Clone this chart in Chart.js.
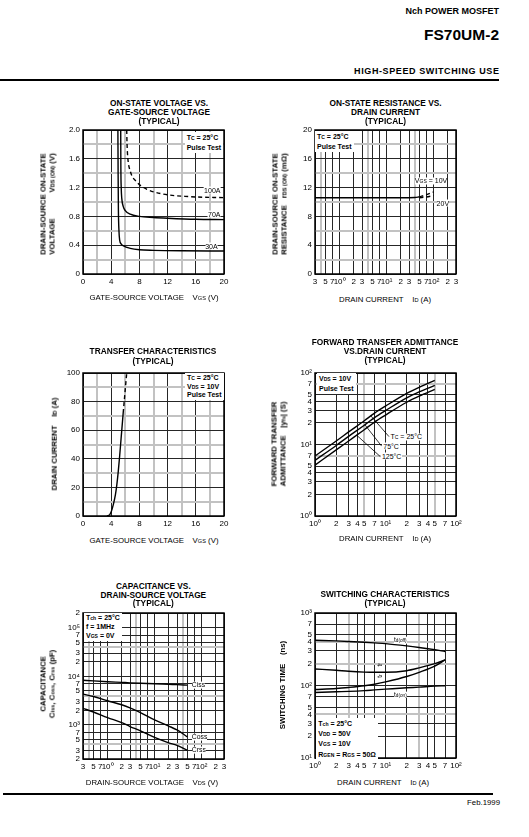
<!DOCTYPE html>
<html><head><meta charset="utf-8">
<script src="https://cdn.jsdelivr.net/npm/chart.js@4.4.0/dist/chart.umd.min.js"></script>
<style>
html,body{margin:0;padding:0;background:#fff}
body{position:relative;width:529px;height:837px;overflow:hidden;font-family:"Liberation Sans",Arial,Helvetica,sans-serif;color:#000}
.t{position:absolute;white-space:nowrap;line-height:1}
.s{font-size:72%}
.bg{background:#fff}
.rule{position:absolute;background:#000}
</style></head><body>
<div class="rule" style="left:0;top:78.8px;width:499px;height:2.6px"></div>
<div class="rule" style="left:3px;top:792.7px;width:490px;height:2px"></div>
<script>
// ================= DATA =================
// Chart 1 : on-state voltage vs gate-source voltage
const c1XTicks = [0,2,4,6,8,10,12,14,16,18,20];
const c1XLabels = ['0','','4','','8','','12','','16','','20'];
const c1YTicks = [0,0.2,0.4,0.6,0.8,1.0,1.2,1.4,1.6,1.8,2.0];
const c1YLabels = ['0','','0.4','','0.8','','1.2','','1.6','','2.0'];
const vgs30A = [4.95,4.98,5.02,5.1,5.2,5.4,5.75,6.7,8,10,14,20];
const vds30A = [2.0,1.4,0.9,0.6,0.47,0.42,0.39,0.356,0.336,0.328,0.322,0.32];
const vgs70A = [5.35,5.37,5.42,5.5,5.7,6.0,6.7,8,10,12,16,20];
const vds70A = [2.0,1.5,1.2,1.05,0.94,0.88,0.83,0.8,0.785,0.775,0.76,0.755];
const vgs100A = [6.2,6.25,6.35,6.7,7.6,9,11.4,15,20];
const vds100A = [2.0,1.8,1.62,1.43,1.28,1.18,1.11,1.075,1.06];

// Chart 2 : on-state resistance vs drain current
const c2XTicks = [0.3,0.4,0.5,0.7,1,2,3,4,5,7,10,20,30,40,50,70,100,200,300];
const c2XLabels = ['3','','5','7','10⁰','2','3','','5','7','10¹','2','3','','5','7','10²','2','3'];
const c2XGray = [0.4,4,40];
const c2YTicks = [0,2,4,6,8,10,12,14,16,18,20];
const c2YLabels = ['0','','4','','8','','12','','16','','20'];
const idR = [0.3,1,3,10,30,40,50];
const rdsSolid = [10.6,10.6,10.6,10.6,10.6,10.62,10.72];
const idRDash = [50,70,100];
const rds10Dash = [10.72,11.0,11.4];
const rds20Dash = [10.6,10.7,10.9];

// Chart 3 : transfer characteristics
const c3XTicks = [0,2,4,6,8,10,12,14,16,18,20];
const c3XLabels = ['0','','4','','8','','12','','16','','20'];
const c3YTicks = [0,10,20,30,40,50,60,70,80,90,100];
const c3YLabels = ['0','','20','','40','','60','','80','','100'];
const vgsT = [3.4,3.8,4.0,4.3,4.6,4.8,5.0,5.2,5.4,5.6,5.7];
const idT = [0,1,3,8,15,22,31,42,54,66,72];
const vgsTDash = [5.7,5.95,6.2];
const idTDash = [72,86,100];

// Chart 4 : forward transfer admittance vs drain current
const c4XTicks = [1,2,3,4,5,7,10,20,30,40,50,70,100];
const c4XLabels = ['10⁰','2','3','4','5','7','10¹','2','3','4','5','7','10²'];
const c4XGray = [5,50];
const c4YTicks = [1,2,3,4,5,7,10,20,30,40,50,70,100];
const c4YLabels = ['10⁰','2','3','4','5','7','10¹','2','3','4','5','7','10²'];
const c4YGray = [7,70];
const idY = [1,2,3,5,7,10,20,30,50];
const yfs25 = [6.9,11.2,15,21.5,27.5,34.5,52,63,79];
const yfs75 = [6.0,9.7,13,18.6,23.8,29.8,45,54.5,67];
const yfs125 = [5.15,8.4,11.2,16.1,20.6,25.8,39,47.5,59];

// Chart 5 : capacitance vs drain-source voltage
const c5XTicks = [0.3,0.4,0.5,0.7,1,2,3,4,5,7,10,20,30,40,50,70,100,200,300];
const c5XLabels = ['3','','5','7','10⁰','2','3','','5','7','10¹','2','3','','5','7','10²','2','3'];
const c5XGray = [0.4,4,40];
const c5YTicks = [200,300,400,500,700,1000,2000,3000,4000,5000,7000,10000,20000,30000,40000,50000,70000,100000,200000];
const c5YLabels = ['2','3','','5','7','10³','2','3','','5','7','10⁴','2','3','','5','7','10⁵','2'];
const c5YGray = [400,4000,40000];
const vdsC = [0.3,0.5,1,2,3,5,10,20,30,50];
const ciss = [8300,8050,7750,7500,7350,7200,7050,6850,6750,6600];
const coss = [4300,3850,3150,2600,2250,1800,1270,950,790,570];
const crss = [2200,1850,1420,1120,930,760,555,430,380,300];

// Chart 6 : switching characteristics
const c6XTicks = [1,2,3,4,5,7,10,20,30,40,50,70,100];
const c6XLabels = ['10⁰','2','3','4','5','7','10¹','2','3','4','5','7','10²'];
const c6XGray = [3,30];
const c6YTicks = [10,20,30,40,50,70,100,200,300,400,500,700,1000];
const c6YLabels = ['10¹','2','3','4','5','7','10²','2','3','4','5','7','10³'];
const c6YGray = [40,200,400];
const idS = [1,2,3,5,7,10,20,30,50,70];
const tdoff = [420,412,405,395,387,378,352,335,312,295];
const tf = [169,162,157,153,152,152,160,175,200,225];
const tr = [88,91,94,99,104,112,133,152,185,225];
const tdon = [80,82,83,85,87,89,93,95,98,99];

// ================= HELPERS =================
const FONTCSS = '"Liberation Sans", Arial, Helvetica, sans-serif';
Chart.defaults.font.family = FONTCSS;
Chart.defaults.font.size = 8;
Chart.defaults.color = '#000';

function T(x, y, html, o = {}) {
  const d = document.createElement('div');
  d.className = 't' + (o.bg ? ' bg' : '');
  d.innerHTML = html;
  d.style.left = x + 'px';
  d.style.top = y + 'px';
  d.style.fontSize = (o.size || 8) + 'px';
  d.style.fontWeight = o.w || 'normal';
  d.style.lineHeight = (o.lh ? o.lh + 'px' : '1');
  if (o.ls) d.style.letterSpacing = o.ls;
  if (o.pad) d.style.padding = o.pad;
  const ax = (o.ax === undefined ? 0.5 : o.ax), ay = (o.ay === undefined ? 0.5 : o.ay);
  d.style.transform = `translate(${-ax * 100}%,${-ay * 100}%)` + (o.rot ? ` rotate(${o.rot}deg)` : '');
  document.body.appendChild(d);
  return d;
}
function YT(x, y, lines, o = {}) {
  const html = lines.map(l => Array.isArray(l)
    ? `<div style="display:flex;justify-content:space-between"><span>${l[0]}</span><span>${l[1]}</span></div>`
    : `<div style="text-align:center">${l}</div>`).join('');
  return T(x, y, html, Object.assign({ rot: -90, w: 'bold', size: 7.8, lh: 8.5 }, o));
}
function LG(x, y0, lh, lines, size) {
  T(x - 2, y0 - lh / 2 - 1, lines.join('<br>'), { ax: 0, ay: 0, w: 'bold', size: size || 7, lh: lh, bg: true, pad: '1px 2px' });
}
function S(t) { return `<span class="s">${t}</span>`; }

const framePlugin = {
  id: 'frame',
  afterDraw(chart) {
    const { ctx, chartArea: a } = chart;
    ctx.save();
    ctx.strokeStyle = '#000';
    ctx.lineWidth = 1.5;
    ctx.strokeRect(a.left, a.top, a.right - a.left, a.bottom - a.top);
    ctx.restore();
  }
};
function leaderPlugin(lines) {
  return {
    id: 'leaders',
    afterDatasetsDraw(chart) {
      const { ctx, scales: { x, y } } = chart;
      ctx.save();
      ctx.strokeStyle = '#000';
      ctx.lineWidth = 0.8;
      ctx.beginPath();
      for (const L of lines) {
        ctx.moveTo(x.getPixelForValue(L[0]), y.getPixelForValue(L[1]));
        ctx.lineTo(x.getPixelForValue(L[2]), y.getPixelForValue(L[3]));
      }
      ctx.stroke();
      ctx.restore();
    }
  };
}
function interpLog(xs, ys, xv) {
  for (let i = 0; i < xs.length - 1; i++) {
    if (xv >= xs[i] && xv <= xs[i + 1]) {
      const f = Math.log(xv / xs[i]) / Math.log(xs[i + 1] / xs[i]);
      return Math.exp(Math.log(ys[i]) + f * Math.log(ys[i + 1] / ys[i]));
    }
  }
  return ys[ys.length - 1];
}
function ds(xs, ys, dashed, width) {
  return {
    data: xs.map((x, i) => ({ x: x, y: ys[i] })),
    showLine: true, borderColor: '#000', borderWidth: width || 1.4,
    borderDash: dashed ? [4, 3] : [], pointRadius: 0,
    cubicInterpolationMode: 'monotone', fill: false
  };
}
function axis(spec, size, isX) {
  const gray = spec.gray || spec.vals.filter((v, i) => spec.labels[i] === '');
  const isGray = (ctx) => {
    const v = spec.vals[ctx.index];
    return gray.some(g => Math.abs(g - v) < 1e-9 * Math.max(1, Math.abs(g)));
  };
  return {
    type: spec.log ? 'logarithmic' : 'linear',
    min: spec.vals[0], max: spec.vals[spec.vals.length - 1],
    afterBuildTicks: s => { s.ticks = spec.vals.map(v => ({ value: v })); },
    afterFit: s => { if (isX) s.height = size; else s.width = size; },
    border: { display: false },
    grid: {
      drawTicks: false,
      color: ctx => isGray(ctx) ? '#c2c2c2' : '#262626',
      lineWidth: ctx => isGray(ctx) ? 2 : 1
    },
    ticks: {
      autoSkip: false, maxRotation: 0, minRotation: 0, padding: 3,
      font: { size: 8 }, color: '#000',
      callback: (v, i) => spec.labels[i]
    }
  };
}
const PL = 40, PR = 16, PT = 10, PB = 20;
function makeChart(rect, datasets, xs, ys, extra) {
  const c = document.createElement('canvas');
  const W = rect.w + PL + PR, H = rect.h + PT + PB;
  c.width = W; c.height = H;
  c.style.cssText = `position:absolute;left:${rect.l - PL}px;top:${rect.t - PT}px;width:${W}px;height:${H}px`;
  document.body.appendChild(c);
  const chart = new Chart(c, {
    type: 'scatter',
    data: { datasets },
    options: {
      responsive: false, animation: false, devicePixelRatio: 1,
      layout: { padding: { left: 0, top: PT, right: PR, bottom: 0 } },
      plugins: { legend: { display: false }, tooltip: { enabled: false } },
      scales: { x: axis(xs, PB, true), y: axis(ys, PL, false) }
    },
    plugins: [framePlugin].concat(extra || [])
  });
  chart.$l = rect.l - PL; chart.$t = rect.t - PT;
  return chart;
}
function lab(chart, xv, yv, html, o) {
  const px = chart.$l + chart.scales.x.getPixelForValue(xv);
  const py = chart.$t + chart.scales.y.getPixelForValue(yv);
  return T(px, py, html, o);
}

// ================= HEADER / FOOTER =================
T(499, 11, 'Nch POWER MOSFET', { ax: 1, w: 'bold', size: 9 });
T(499, 35, 'FS70UM-2', { ax: 1, w: 'bold', size: 15.5 });
T(499.5, 70.7, 'HIGH-SPEED SWITCHING USE', { ax: 1, w: 'bold', size: 9, ls: '0.6px' });
T(500, 803, 'Feb.1999', { ax: 1, size: 7.8 });

// ================= CHART 1 =================
const c1 = makeChart({ l: 83, t: 130, w: 141, h: 144 }, [
  ds(vgs30A, vds30A), ds(vgs70A, vds70A), ds(vgs100A, vds100A, true)
], { vals: c1XTicks, labels: c1XLabels }, { vals: c1YTicks, labels: c1YLabels });
T(159, 103, 'ON-STATE VOLTAGE VS.', { w: 'bold', size: 8.3 });
T(159, 111.8, 'GATE-SOURCE VOLTAGE', { w: 'bold', size: 8.3 });
T(159, 120.7, '(TYPICAL)', { w: 'bold', size: 8.3 });
T(154, 298, 'GATE-SOURCE VOLTAGE&nbsp;&nbsp;&nbsp;&nbsp;V' + S('GS') + ' (V)', { size: 7.8 });
YT(47.5, 203.5, ['DRAIN-SOURCE ON-STATE', ['VOLTAGE', 'V' + S('DS (ON)') + ' (V)']]);
LG(186.7, 137.7, 9, ['T' + S('C') + ' = 25°C', 'Pulse Test']);
lab(c1, 19.5, 1.17, '100A', { ax: 1, size: 7, bg: true });
lab(c1, 19.5, 0.83, '70A', { ax: 1, size: 7, bg: true });
lab(c1, 19.1, 0.39, '30A', { ax: 1, size: 7, bg: true });

// ================= CHART 2 =================
const c2 = makeChart({ l: 315, t: 130, w: 141, h: 144 }, [
  ds(idR, rdsSolid), ds(idRDash, rds10Dash, true), ds(idRDash, rds20Dash, true)
], { log: true, vals: c2XTicks, labels: c2XLabels, gray: c2XGray }, { vals: c2YTicks, labels: c2YLabels });
T(385.5, 103, 'ON-STATE RESISTANCE VS.', { w: 'bold', size: 8.3 });
T(385.5, 111.8, 'DRAIN CURRENT', { w: 'bold', size: 8.3 });
T(385.5, 120.7, '(TYPICAL)', { w: 'bold', size: 8.3 });
T(385, 300, 'DRAIN CURRENT&nbsp;&nbsp;&nbsp;&nbsp;I' + S('D') + ' (A)', { size: 7.8 });
YT(280, 203.5, ['DRAIN-SOURCE ON-STATE', ['RESISTANCE', 'r' + S('DS (ON)') + ' (mΩ)']]);
LG(317, 136.7, 9, ['T' + S('C') + ' = 25°C', 'Pulse Test']);
lab(c2, 40, 12.96, 'V' + S('GS') + ' = 10V', { ax: 0, size: 7, bg: true });
lab(c2, 116, 9.82, '20V', { ax: 0, size: 7, bg: true });

// ================= CHART 3 =================
const c3 = makeChart({ l: 83, t: 373, w: 141, h: 143 }, [
  ds(vgsT, idT), ds(vgsTDash, idTDash, true)
], { vals: c3XTicks, labels: c3XLabels }, { vals: c3YTicks, labels: c3YLabels });
T(153, 351, 'TRANSFER CHARACTERISTICS', { w: 'bold', size: 8.3 });
T(153, 360.7, '(TYPICAL)', { w: 'bold', size: 8.3 });
T(154, 540.5, 'GATE-SOURCE VOLTAGE&nbsp;&nbsp;&nbsp;&nbsp;V' + S('GS') + ' (V)', { size: 7.8 });
YT(55, 443.5, ['DRAIN CURRENT&nbsp;&nbsp;&nbsp;&nbsp;I' + S('D') + ' (A)']);
LG(187, 378.3, 8.4, ['T' + S('C') + ' = 25°C', 'V' + S('DS') + ' = 10V', 'Pulse Test']);

// ================= CHART 4 =================
const leaders4 = [
  [6.2, interpLog(idY, yfs25, 6.2), 11.2, 12.9],
  [5.1, interpLog(idY, yfs75, 5.1), 8.8, 9.5],
  [3.9, interpLog(idY, yfs125, 3.9), 8.4, 6.8]
];
const c4 = makeChart({ l: 315, t: 373, w: 141, h: 143 }, [
  ds(idY, yfs25), ds(idY, yfs75), ds(idY, yfs125)
], { log: true, vals: c4XTicks, labels: c4XLabels, gray: c4XGray },
   { log: true, vals: c4YTicks, labels: c4YLabels, gray: c4YGray }, [leaderPlugin(leaders4)]);
T(385, 341.7, 'FORWARD TRANSFER ADMITTANCE', { w: 'bold', size: 8.3 });
T(385, 350.7, 'VS.DRAIN CURRENT', { w: 'bold', size: 8.3 });
T(385, 360.3, '(TYPICAL)', { w: 'bold', size: 8.3 });
T(385, 539, 'DRAIN CURRENT&nbsp;&nbsp;&nbsp;&nbsp;I' + S('D') + ' (A)', { size: 7.8 });
YT(279, 444, ['FORWARD TRANSFER', ['ADMITTANCE', '|y' + S('fs') + '| (S)']]);
LG(319, 378.3, 9, ['V' + S('DS') + ' = 10V', 'Pulse Test']);
lab(c4, 11.4, 12.9, 'T' + S('C') + ' = 25°C', { ax: 0, size: 7, bg: true, pad: '0 1px' });
lab(c4, 9.0, 9.5, '75°C', { ax: 0, size: 7, bg: true, pad: '0 1px' });
lab(c4, 8.6, 6.8, '125°C', { ax: 0, size: 7, bg: true, pad: '0 1px' });

// ================= CHART 5 =================
const c5 = makeChart({ l: 83, t: 613, w: 141, h: 146 }, [
  ds(vdsC, ciss), ds(vdsC, coss), ds(vdsC, crss)
], { log: true, vals: c5XTicks, labels: c5XLabels, gray: c5XGray },
   { log: true, vals: c5YTicks, labels: c5YLabels, gray: c5YGray });
T(153.3, 586, 'CAPACITANCE VS.', { w: 'bold', size: 8.3 });
T(153.3, 594.6, 'DRAIN-SOURCE VOLTAGE', { w: 'bold', size: 8.3 });
T(153.3, 603.3, '(TYPICAL)', { w: 'bold', size: 8.3 });
T(152, 783, 'DRAIN-SOURCE VOLTAGE&nbsp;&nbsp;&nbsp;&nbsp;V' + S('DS') + ' (V)', { size: 7.8 });
YT(48, 684, ['CAPACITANCE', 'C' + S('iss') + ', C' + S('oss') + ', C' + S('rss') + ' (pF)']);
LG(86, 618.3, 8.85, ['T' + S('ch') + ' = 25°C', 'f = 1MHz', 'V' + S('GS') + ' = 0V']);
lab(c5, 62, 6600, 'Ciss', { ax: 0, size: 6.8, bg: true });
lab(c5, 62, 574, 'Coss', { ax: 0, size: 6.8, bg: true });
lab(c5, 62, 306, 'Crss', { ax: 0, size: 6.8, bg: true });

// ================= CHART 6 =================
const c6 = makeChart({ l: 315, t: 613, w: 141, h: 145 }, [
  ds(idS, tdoff), ds(idS, tf), ds(idS, tr), ds(idS, tdon)
], { log: true, vals: c6XTicks, labels: c6XLabels, gray: c6XGray },
   { log: true, vals: c6YTicks, labels: c6YLabels, gray: c6YGray });
T(385, 594.3, 'SWITCHING CHARACTERISTICS', { w: 'bold', size: 8.3 });
T(385, 603.3, '(TYPICAL)', { w: 'bold', size: 8.3 });
T(383, 783, 'DRAIN CURRENT&nbsp;&nbsp;&nbsp;&nbsp;I' + S('D') + ' (A)', { size: 7.8 });
YT(283.3, 685, ['SWITCHING TIME&nbsp;&nbsp;&nbsp;&nbsp;(ns)']);
LG(318.3, 723.5, 9.3, ['T' + S('ch') + ' = 25°C', 'V' + S('DD') + ' = 50V', 'V' + S('GS') + ' = 10V', 'R' + S('GEN') + ' = R' + S('GS') + ' = 50Ω']);
lab(c6, 13.2, 422, 't' + S('d(off)'), { ax: 0, size: 6.5, bg: true });
lab(c6, 13.2, 75, 't' + S('d(on)'), { ax: 0, size: 6.5, bg: true });
lab(c6, 8.4, 190, 't' + S('f'), { size: 6.5, rot: -90 });
lab(c6, 8.4, 137, 't' + S('r'), { size: 6.5, rot: -90 });
</script>
</body></html>
